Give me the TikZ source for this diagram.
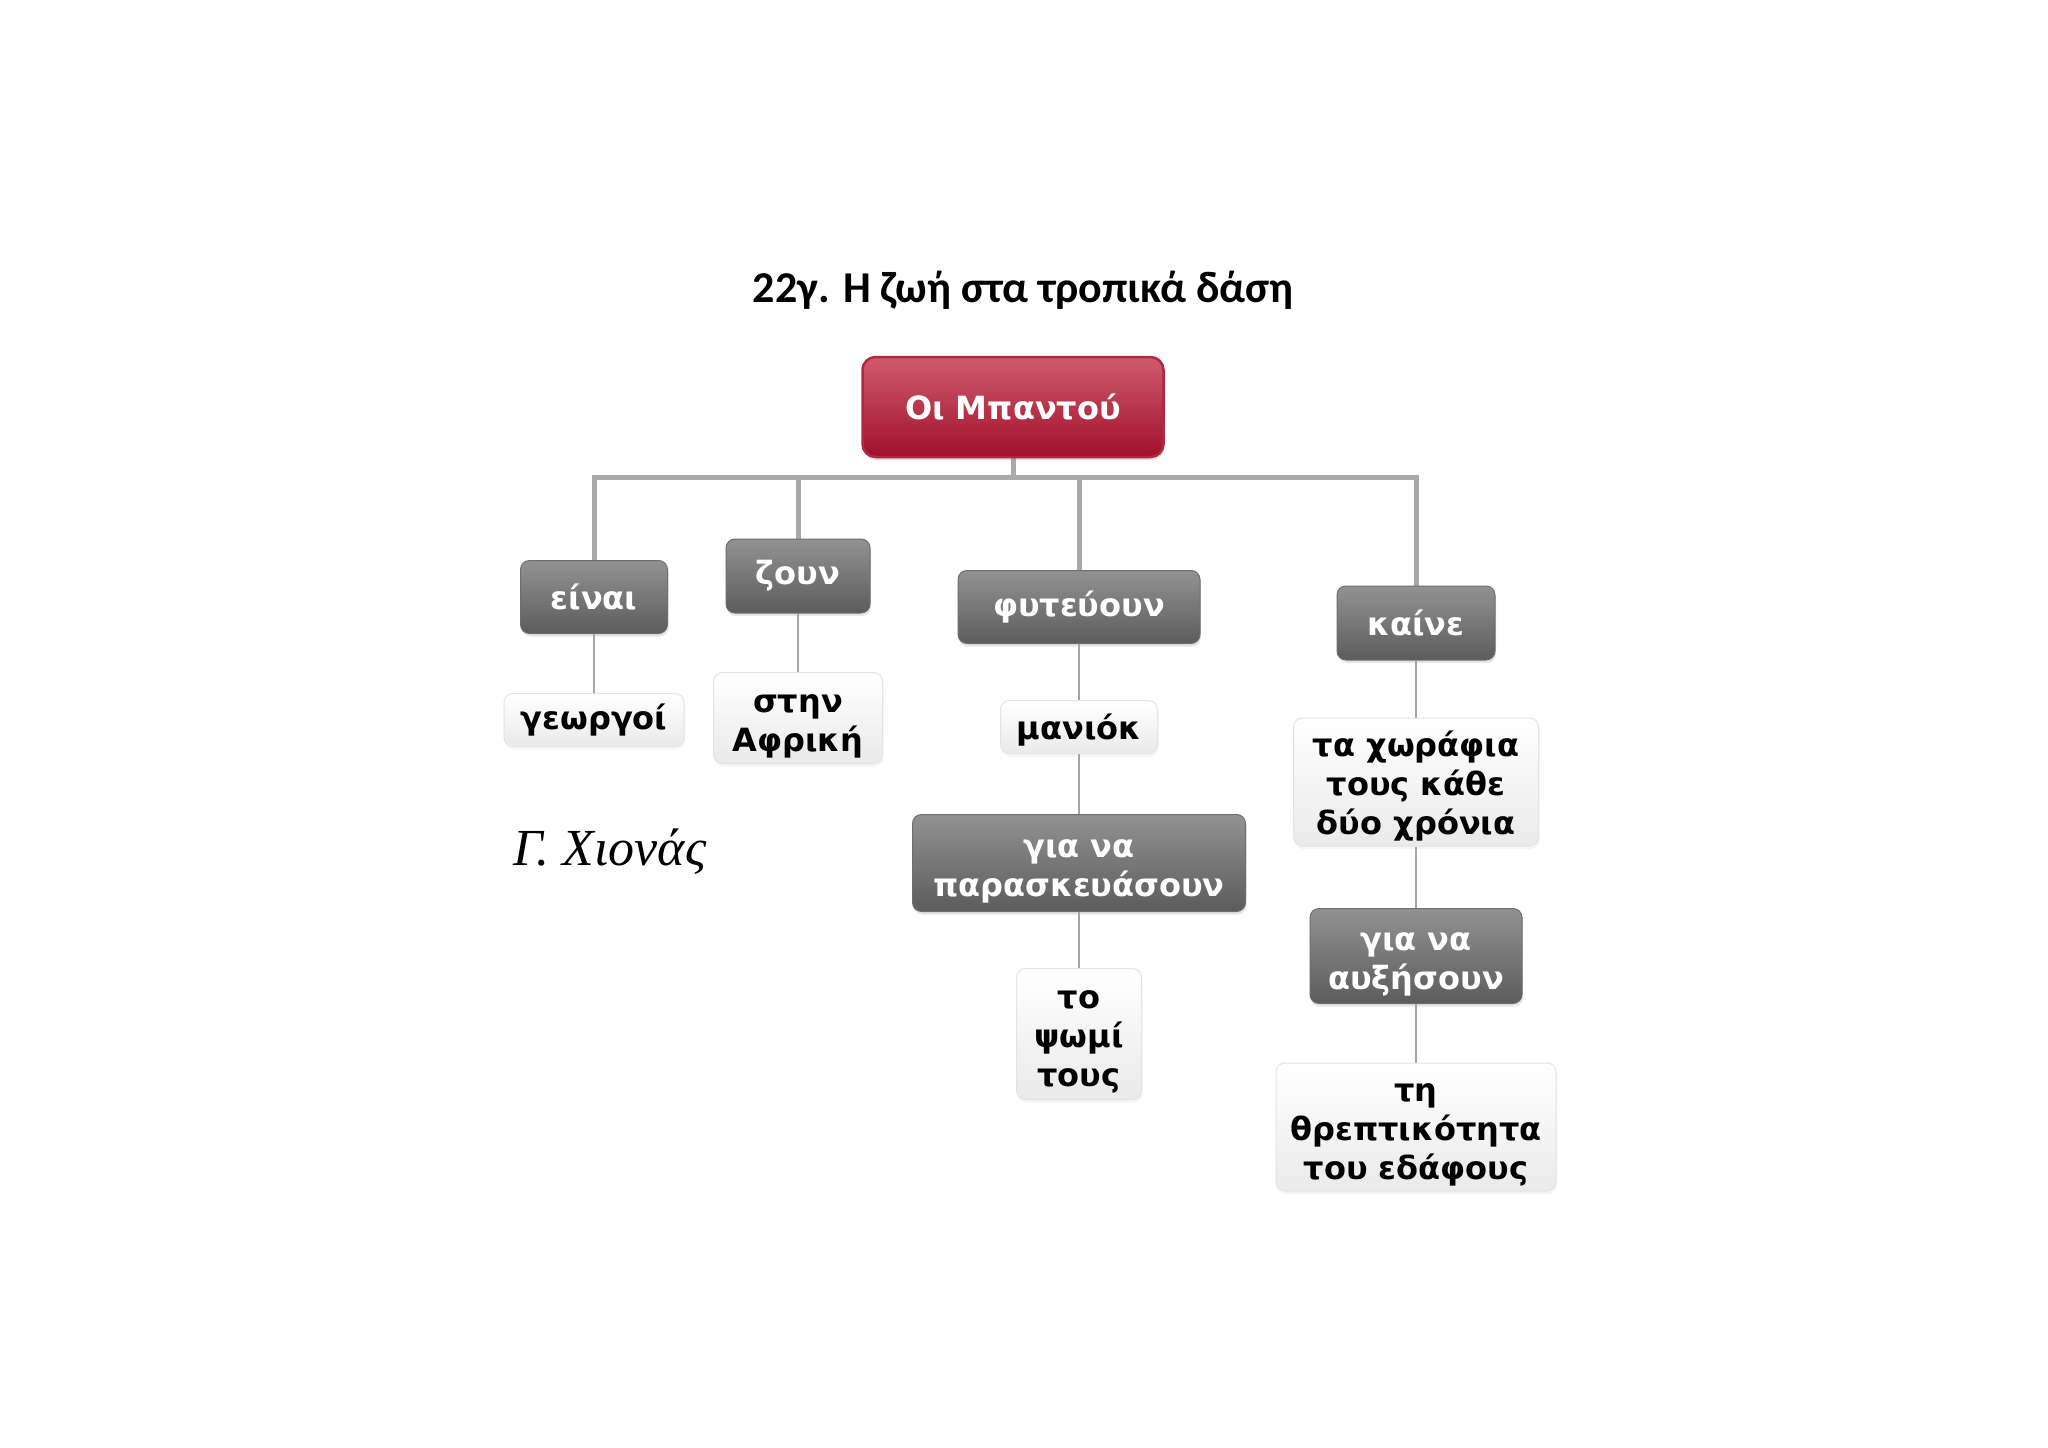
\documentclass[tikz,border=0pt]{standalone}
\usepackage{fontspec}
\setmainfont{DejaVu Sans}
\newfontfamily\titlefont{Carlito}
\newfontfamily\signfont{Liberation Serif}
\usetikzlibrary{shadows}
\definecolor{rootTop}{RGB}{208,92,110}
\definecolor{rootBot}{RGB}{160,16,42}
\definecolor{rootLine}{RGB}{178,40,62}
\definecolor{grayTop}{RGB}{146,146,146}
\definecolor{grayBot}{RGB}{92,92,92}
\definecolor{grayLine}{RGB}{110,110,110}
\definecolor{whiteBot}{RGB}{234,234,234}
\definecolor{whiteLine}{RGB}{228,228,228}
\definecolor{busCol}{RGB}{170,170,170}
\definecolor{linkCol}{RGB}{165,165,165}
\newcommand\mlines[1]{\raisebox{-6pt}[\height][\depth]{\begin{tabular}{@{}c@{}}#1\end{tabular}}}
\begin{document}
\begin{tikzpicture}[x=1pt,y=-1pt,
  boxtext/.style={font=\fontsize{32}{39}\selectfont\bfseries, align=center, inner sep=0pt},
  rootbox/.style={boxtext, rounded corners=13pt, top color=rootTop, bottom color=rootBot,
     draw=rootLine, line width=2.5pt, text=white,
     drop shadow={shadow xshift=1pt, shadow yshift=-3pt, opacity=0.25}},
  graybox/.style={boxtext, rounded corners=9pt, top color=grayTop, bottom color=grayBot,
     draw=grayLine, line width=1pt, text=white,
     drop shadow={shadow xshift=1pt, shadow yshift=-3pt, opacity=0.2}},
  whitebox/.style={boxtext, rounded corners=9pt, top color=white, bottom color=whiteBot,
     draw=whiteLine, line width=1pt, text=black,
     drop shadow={shadow xshift=1pt, shadow yshift=-3pt, opacity=0.08}},
  bus/.style={draw=busCol, line width=5pt},
  link/.style={draw=linkCol, line width=1.8pt}
]
\useasboundingbox (0,0) rectangle (2048,1448);
\fill[white] (0,0) rectangle (2048,1448);

% title
\node[font=\titlefont\bfseries\fontsize{44}{50}\selectfont, inner sep=0pt] (title) at (1023,290) {22γ. Η ζωή στα τροπικά δάση};

% hub
\coordinate (hub) at (1013,477);

% connectors (drawn first)
\coordinate (rootS) at (1013,457);
\draw[bus] (rootS) -- (hub);
\draw[bus] (hub) -| (594,560) coordinate (einaN);
\draw[bus] (hub) -| (798,539) coordinate (zounN);
\draw[bus] (hub) -| (1079,571) coordinate (fytN);
\draw[bus] (hub) -| (1416,586) coordinate (kaineN);

% nodes
\node[rootbox, minimum width=301pt, minimum height=100pt] (root) at (1013,407) {Οι Μπαντού};

\node[graybox, minimum width=147pt, minimum height=73pt] (eina) at (594,597) {είναι};
\node[graybox, minimum width=144pt, minimum height=74pt] (zoun) at (798,576) {ζουν};
\node[graybox, minimum width=242pt, minimum height=73pt] (fyt) at (1079,607) {φυτεύουν};
\node[graybox, minimum width=158pt, minimum height=74pt] (kaine) at (1416,623) {καίνε};

\node[whitebox, minimum width=180pt, minimum height=53pt] (georgoi) at (594,720) {γεωργοί};
\node[whitebox, minimum width=169pt, minimum height=91pt] (afriki) at (798,718) {\mlines{στην\\Αφρική}};
\node[whitebox, minimum width=157pt, minimum height=53pt] (maniok) at (1079,727) {\raisebox{-3pt}[\height][\depth]{μανιόκ}};
\node[graybox, minimum width=333pt, minimum height=97pt] (para) at (1079,863) {\mlines{για να\\παρασκευάσουν}};
\node[whitebox, minimum width=125pt, minimum height=131pt] (psomi) at (1079,1034) {\mlines{το\\ψωμί\\τους}};
\node[whitebox, minimum width=245pt, minimum height=128pt] (xorafia) at (1416,782) {\mlines{τα χωράφια\\τους κάθε\\δύο χρόνια}};
\node[graybox, minimum width=212pt, minimum height=95pt] (afxis) at (1416,956) {\mlines{για να\\αυξήσουν}};
\node[whitebox, minimum width=280pt, minimum height=128pt] (thrept) at (1416,1127) {\mlines{τη\\θρεπτικότητα\\του εδάφους}};

% thin links
\draw[link] (eina.south) -- (georgoi.north);
\draw[link] (zoun.south) -- (afriki.north);
\draw[link] (fyt.south) -- (maniok.north);
\draw[link] (maniok.south) -- (para.north);
\draw[link] (para.south) -- (psomi.north);
\draw[link] (kaine.south) -- (xorafia.north);
\draw[link] (xorafia.south) -- (afxis.north);
\draw[link] (afxis.south) -- (thrept.north);

% signature
\node[font=\signfont\itshape\fontsize{52}{56}\selectfont, inner sep=0pt] (sign) at (610,852) {Γ. Χιονάς};
\end{tikzpicture}
\end{document}
